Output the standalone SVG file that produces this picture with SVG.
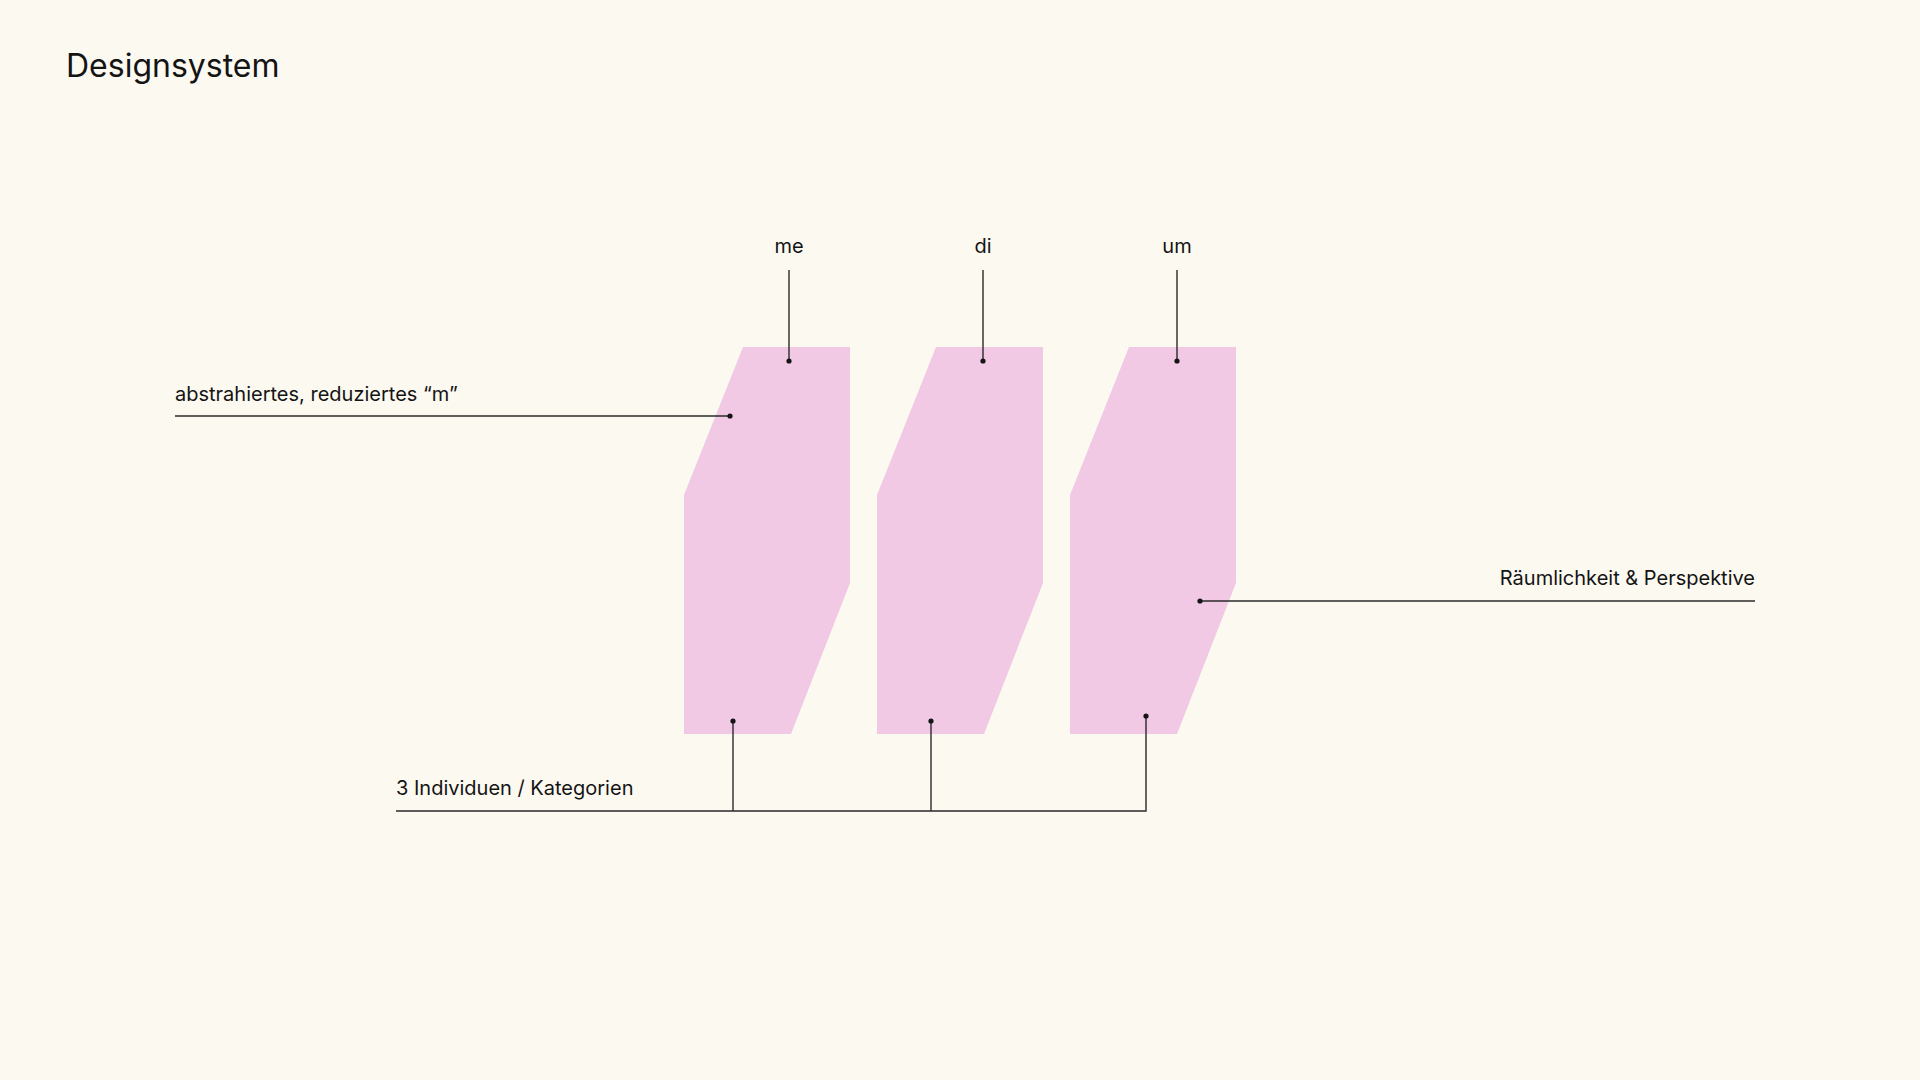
<svg xmlns="http://www.w3.org/2000/svg" width="1920" height="1080" viewBox="0 0 1920 1080">
<style>
  .bg{fill:#fcf9f1}
  .shape{fill:#f1c9e5}
  .lbl{font-family:Inter,"Noto Sans","Liberation Sans",sans-serif;font-size:20px;fill:#141414}
  .title{font-family:Inter,"Noto Sans","Liberation Sans",sans-serif;font-size:32px;fill:#141414}
  .ln{stroke:#2a2a2a;stroke-width:1.4;fill:none}
  .dot{fill:#141414}
</style>
<rect class="bg" x="0" y="0" width="1920" height="1080"/>
<text class="title" x="66" y="77">Designsystem</text>

<g id="node-me">
  <polygon class="shape" points="743,347 850,347 850,583 791,734 684,734 684,495"/>
  <text class="lbl" x="789" y="253" text-anchor="middle">me</text>
</g>
<g id="node-di">
  <polygon class="shape" points="936,347 1043,347 1043,583 984,734 877,734 877,495"/>
  <text class="lbl" x="983" y="253" text-anchor="middle">di</text>
</g>
<g id="node-um">
  <polygon class="shape" points="1129,347 1236,347 1236,583 1177,734 1070,734 1070,495"/>
  <text class="lbl" x="1177" y="253" text-anchor="middle">um</text>
</g>

<g id="label-m">
  <text class="lbl" x="175" y="401">abstrahiertes, reduziertes “m”</text>
</g>
<g id="label-raum">
  <text class="lbl" x="1755" y="585" text-anchor="end">Räumlichkeit &amp; Perspektive</text>
</g>
<g id="label-individuen">
  <text class="lbl" x="396" y="795">3 Individuen / Kategorien</text>
</g>

<g id="connectors">
  <line class="ln" x1="789" y1="270" x2="789" y2="361"/>
  <line class="ln" x1="983" y1="270" x2="983" y2="361"/>
  <line class="ln" x1="1177" y1="270" x2="1177" y2="361"/>
  <circle class="dot" cx="789" cy="361" r="2.6"/>
  <circle class="dot" cx="983" cy="361" r="2.6"/>
  <circle class="dot" cx="1177" cy="361" r="2.6"/>

  <line class="ln" x1="175" y1="416" x2="730" y2="416"/>
  <circle class="dot" cx="730" cy="416" r="2.6"/>

  <line class="ln" x1="1200" y1="601" x2="1755" y2="601"/>
  <circle class="dot" cx="1200" cy="601" r="2.6"/>

  <polyline class="ln" points="396,811 1146,811 1146,716"/>
  <line class="ln" x1="733" y1="721" x2="733" y2="811"/>
  <line class="ln" x1="931" y1="721" x2="931" y2="811"/>
  <circle class="dot" cx="733" cy="721" r="2.6"/>
  <circle class="dot" cx="931" cy="721" r="2.6"/>
  <circle class="dot" cx="1146" cy="716" r="2.6"/>
</g>
</svg>
